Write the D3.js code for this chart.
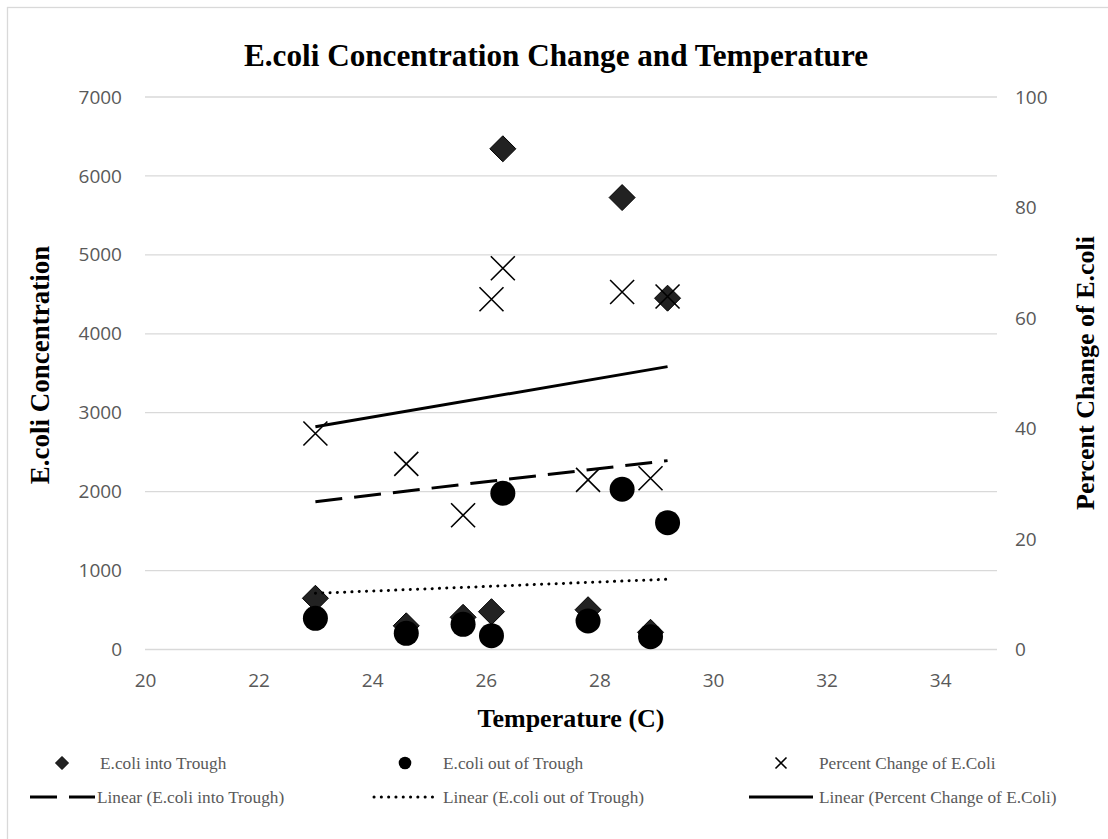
<!DOCTYPE html>
<html>
<head>
<meta charset="utf-8">
<script src="https://cdn.jsdelivr.net/npm/d3@7"></script>
<style>
  html, body { margin: 0; padding: 0; background: #fff; }
  svg { display: block; }
</style>
</head>
<body>
<svg id="chart" width="1108" height="839"></svg>
<script>
// ---- data ----
const temperature = [23, 24.6, 25.6, 26.1, 26.3, 27.8, 28.4, 28.9, 29.2];
const ecoliInto   = [649, 300, 408, 479, 6344, 504, 5726, 218, 4451];
const ecoliOut    = [395, 205, 319, 175, 1980, 361, 2030, 162, 1607];
const percentChange = [39.1, 33.6, 24.3, 63.4, 69.0, 30.7, 64.7, 31.0, 63.9];

// trendline end points as drawn in the reference
const trendTemp    = [23, 29.2];
const trendInto    = [1873, 2393];
const trendOut     = [712, 890];
const trendPercent = [40.3, 51.2];

const xTicks  = [20, 22, 24, 26, 28, 30, 32, 34];
const yLTicks = [0, 1000, 2000, 3000, 4000, 5000, 6000, 7000];
const yRTicks = [0, 20, 40, 60, 80, 100];

const titleText = "E.coli Concentration Change and Temperature";
const xTitle = "Temperature (C)";
const yLTitle = "E.coli Concentration";
const yRTitle = "Percent Change of E.coli";
const legendLabels = ["E.coli into Trough", "E.coli out of Trough", "Percent Change of E.Coli",
  "Linear (E.coli into Trough)", "Linear (E.coli out of Trough)", "Linear (Percent Change of E.Coli)"];

// ---- layout ----
const svg = d3.select("#chart");
const plot = {left: 145, right: 997, top: 97, bottom: 649.5};
const x  = d3.scaleLinear().domain([20, 35]).range([plot.left, plot.right]);
const yL = d3.scaleLinear().domain([0, 7000]).range([plot.bottom, plot.top]);
const yR = d3.scaleLinear().domain([0, 100]).range([plot.bottom, plot.top]);

const serif = "'Liberation Serif', 'Times New Roman', serif";
const sans = "'Open Sans', 'Noto Sans', sans-serif";
const grey = "#595959";

svg.append("rect").attr("width", 1108).attr("height", 839).attr("fill", "#fff");
// chart border (left and top visible)
svg.append("rect").attr("x", 7.5).attr("y", 7.5).attr("width", 1200).attr("height", 900)
  .attr("fill", "none").attr("stroke", "#d9d9d9").attr("stroke-width", 1.3);

// title
svg.append("text").attr("x", 556).attr("y", 66).attr("text-anchor", "middle")
  .attr("font-family", serif).attr("font-weight", "bold").attr("font-size", 32)
  .attr("textLength", 624).attr("lengthAdjust", "spacingAndGlyphs")
  .attr("fill", "#000").text(titleText);

// gridlines
svg.append("g").selectAll("line").data(yLTicks).join("line")
  .attr("x1", plot.left).attr("x2", plot.right)
  .attr("y1", d => yL(d)).attr("y2", d => yL(d))
  .attr("stroke", "#d9d9d9").attr("stroke-width", 1.3);

// axes
function styleAxis(g) {
  g.select(".domain").remove();
  g.selectAll(".tick line").remove();
  g.selectAll(".tick text").attr("font-family", sans).attr("font-size", 19).attr("fill", grey);
}
svg.append("g").attr("transform", `translate(${plot.left},0)`)
  .call(d3.axisLeft(yL).tickValues(yLTicks).tickSize(0).tickPadding(23).tickFormat(d3.format("d")))
  .call(styleAxis);
svg.append("g").attr("transform", `translate(${plot.right},0)`)
  .call(d3.axisRight(yR).tickValues(yRTicks).tickSize(0).tickPadding(18).tickFormat(d3.format("d")))
  .call(styleAxis);
svg.append("g").attr("transform", `translate(0,${plot.bottom})`)
  .call(d3.axisBottom(x).tickValues(xTicks).tickSize(0).tickPadding(24).tickFormat(d3.format("d")))
  .call(styleAxis);

// axis titles
svg.append("text").attr("x", 571).attr("y", 727).attr("text-anchor", "middle")
  .attr("font-family", serif).attr("font-weight", "bold").attr("font-size", 26).text(xTitle);
svg.append("text").attr("transform", "translate(49,365) rotate(-90)").attr("text-anchor", "middle")
  .attr("font-family", serif).attr("font-weight", "bold").attr("font-size", 27).text(yLTitle);
svg.append("text").attr("transform", "translate(1094,373) rotate(-90)").attr("text-anchor", "middle")
  .attr("font-family", serif).attr("font-weight", "bold").attr("font-size", 26).text(yRTitle);

// marker helpers
const diamondPath = (cx, cy, r) => `M${cx},${cy - r}L${cx + r},${cy}L${cx},${cy + r}L${cx - r},${cy}Z`;
const crossPath = (cx, cy, r) => `M${cx - r},${cy - r}L${cx + r},${cy + r}M${cx - r},${cy + r}L${cx + r},${cy - r}`;

const pts = temperature.map((t, i) => ({t, a: ecoliInto[i], b: ecoliOut[i], p: percentChange[i]}));

// series markers
svg.append("g").selectAll("path").data(pts).join("path")
  .attr("d", d => diamondPath(x(d.t), yL(d.a), 13))
  .attr("fill", "#222").attr("stroke", "#000").attr("stroke-width", 1);
svg.append("g").selectAll("circle").data(pts).join("circle")
  .attr("cx", d => x(d.t)).attr("cy", d => yL(d.b)).attr("r", 12.5).attr("fill", "#000");
svg.append("g").selectAll("path").data(pts).join("path")
  .attr("d", d => crossPath(x(d.t), yR(d.p), 12))
  .attr("fill", "none").attr("stroke", "#000").attr("stroke-width", 1.6);

// trendlines
const line = d3.line();
function trend(vals, scale, dash, cap) {
  svg.append("path")
    .attr("d", line(trendTemp.map((t, i) => [x(t), scale(vals[i])])))
    .attr("fill", "none").attr("stroke", "#000").attr("stroke-width", 3)
    .attr("stroke-dasharray", dash).attr("stroke-linecap", cap);
}
trend(trendInto, yL, "27,12", "butt");
trend(trendOut, yL, "0.1,7.2", "round");
trend(trendPercent, yR, null, "butt");

// legend
const leg = svg.append("g").attr("font-family", serif).attr("font-size", 17.3).attr("fill", grey);
const row1 = 763, row2 = 797;
leg.append("path").attr("d", diamondPath(62, row1, 6.5)).attr("fill", "#222").attr("stroke", "#000");
leg.append("circle").attr("cx", 405).attr("cy", row1).attr("r", 6.3).attr("fill", "#000");
leg.append("path").attr("d", crossPath(781, row1, 5.5)).attr("stroke", "#000").attr("stroke-width", 1.6).attr("fill", "none");
leg.append("line").attr("x1", 30).attr("x2", 95).attr("y1", row2).attr("y2", row2)
  .attr("stroke", "#000").attr("stroke-width", 3).attr("stroke-dasharray", "27,12");
leg.append("line").attr("x1", 374).attr("x2", 436).attr("y1", row2).attr("y2", row2)
  .attr("stroke", "#000").attr("stroke-width", 3).attr("stroke-dasharray", "0.1,7.2").attr("stroke-linecap", "round");
leg.append("line").attr("x1", 749).attr("x2", 813).attr("y1", row2).attr("y2", row2)
  .attr("stroke", "#000").attr("stroke-width", 3);
const legPos = [[100, row1], [443, row1], [819, row1], [97, row2], [443, row2], [819, row2]];
leg.selectAll("text").data(legendLabels).join("text")
  .attr("x", (d, i) => legPos[i][0]).attr("y", (d, i) => legPos[i][1]).attr("dy", "0.35em")
  .text(d => d);
</script>
</body>
</html>
